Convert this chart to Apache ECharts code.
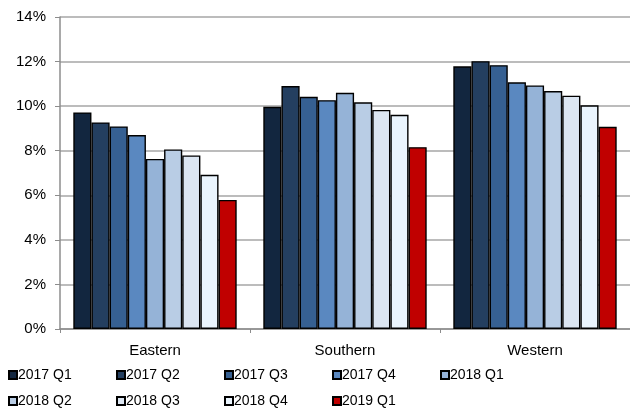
<!DOCTYPE html>
<html>
<head>
<meta charset="utf-8">
<script src="https://cdn.jsdelivr.net/npm/echarts@6/dist/echarts.min.js"></script>
<style>
    html, body { margin: 0; padding: 0; background: #fff; }
    #main { width: 630px; height: 410px; }
</style>
</head>
<body>
<div id="main"></div>
<script>
// 数据
var regions = ['Eastern', 'Southern', 'Western']
var quarters = ['2017 Q1', '2017 Q2', '2017 Q3', '2017 Q4', '2018 Q1',
                '2018 Q2', '2018 Q3', '2018 Q4', '2019 Q1']
var eastern = [9.72, 9.27, 9.09, 8.70, 7.63, 8.06, 7.79, 6.92, 5.79]
var southern = [9.97, 10.90, 10.42, 10.27, 10.60, 10.17, 9.83, 9.61, 8.16]
var western = [11.79, 12.02, 11.84, 11.07, 10.93, 10.68, 10.47, 10.04, 9.07]
var yTicks = [0, 2, 4, 6, 8, 10, 12, 14]

var colors = ['#12263f', '#243f60', '#366092', '#5a88c0', '#95b3d7',
              '#b9cde5', '#dce6f2', '#eaf4fd', '#c00000']

var font = 'Liberation Sans, Arial, sans-serif'

var series = quarters.map(function(q, i) {
    return {
        name: q,
        type: 'bar',
        barGap: '0%',
        barCategoryGap: '14%',
        data: [eastern[i], southern[i], western[i]],
        itemStyle: {
            color: colors[i],
            borderColor: '#000',
            borderWidth: 1.4
        }
    }
})

var myChart = echarts.init(document.querySelector('#main'))
var option = {
    animation: false,
    grid: {
        left: 60,
        right: -3,
        top: 17,
        bottom: 81
    },
    legend: {
        data: quarters,
        left: 8,
        top: 367,
        width: 560,
        padding: 0,
        itemWidth: 8,
        itemHeight: 8,
        itemGap: 10,
        icon: 'rect',
        textStyle: {
            fontFamily: font,
            fontSize: 14,
            color: '#000',
            width: 88,
            lineHeight: 16,
            padding: [0, 0, 0, -4]
        }
    },
    xAxis: {
        type: 'category',
        data: regions,
        axisLine: { lineStyle: { color: '#8c8c8c', width: 1.5 } },
        axisTick: { show: true, length: 4, lineStyle: { color: '#8c8c8c' } },
        axisLabel: {
            fontFamily: font,
            fontSize: 15,
            color: '#000',
            margin: 14
        }
    },
    yAxis: {
        type: 'value',
        min: yTicks[0],
        max: yTicks[yTicks.length - 1],
        interval: 2,
        axisLine: { show: true, lineStyle: { color: '#8c8c8c', width: 1.5 } },
        axisTick: { show: true, length: 5, lineStyle: { color: '#8c8c8c' } },
        splitLine: { lineStyle: { color: '#a6a6a6', width: 1.5 } },
        axisLabel: {
            fontFamily: font,
            fontSize: 15,
            color: '#000',
            margin: 14,
            formatter: '{value}%'
        }
    },
    series: series
}
myChart.setOption(option)
</script>
</body>
</html>
